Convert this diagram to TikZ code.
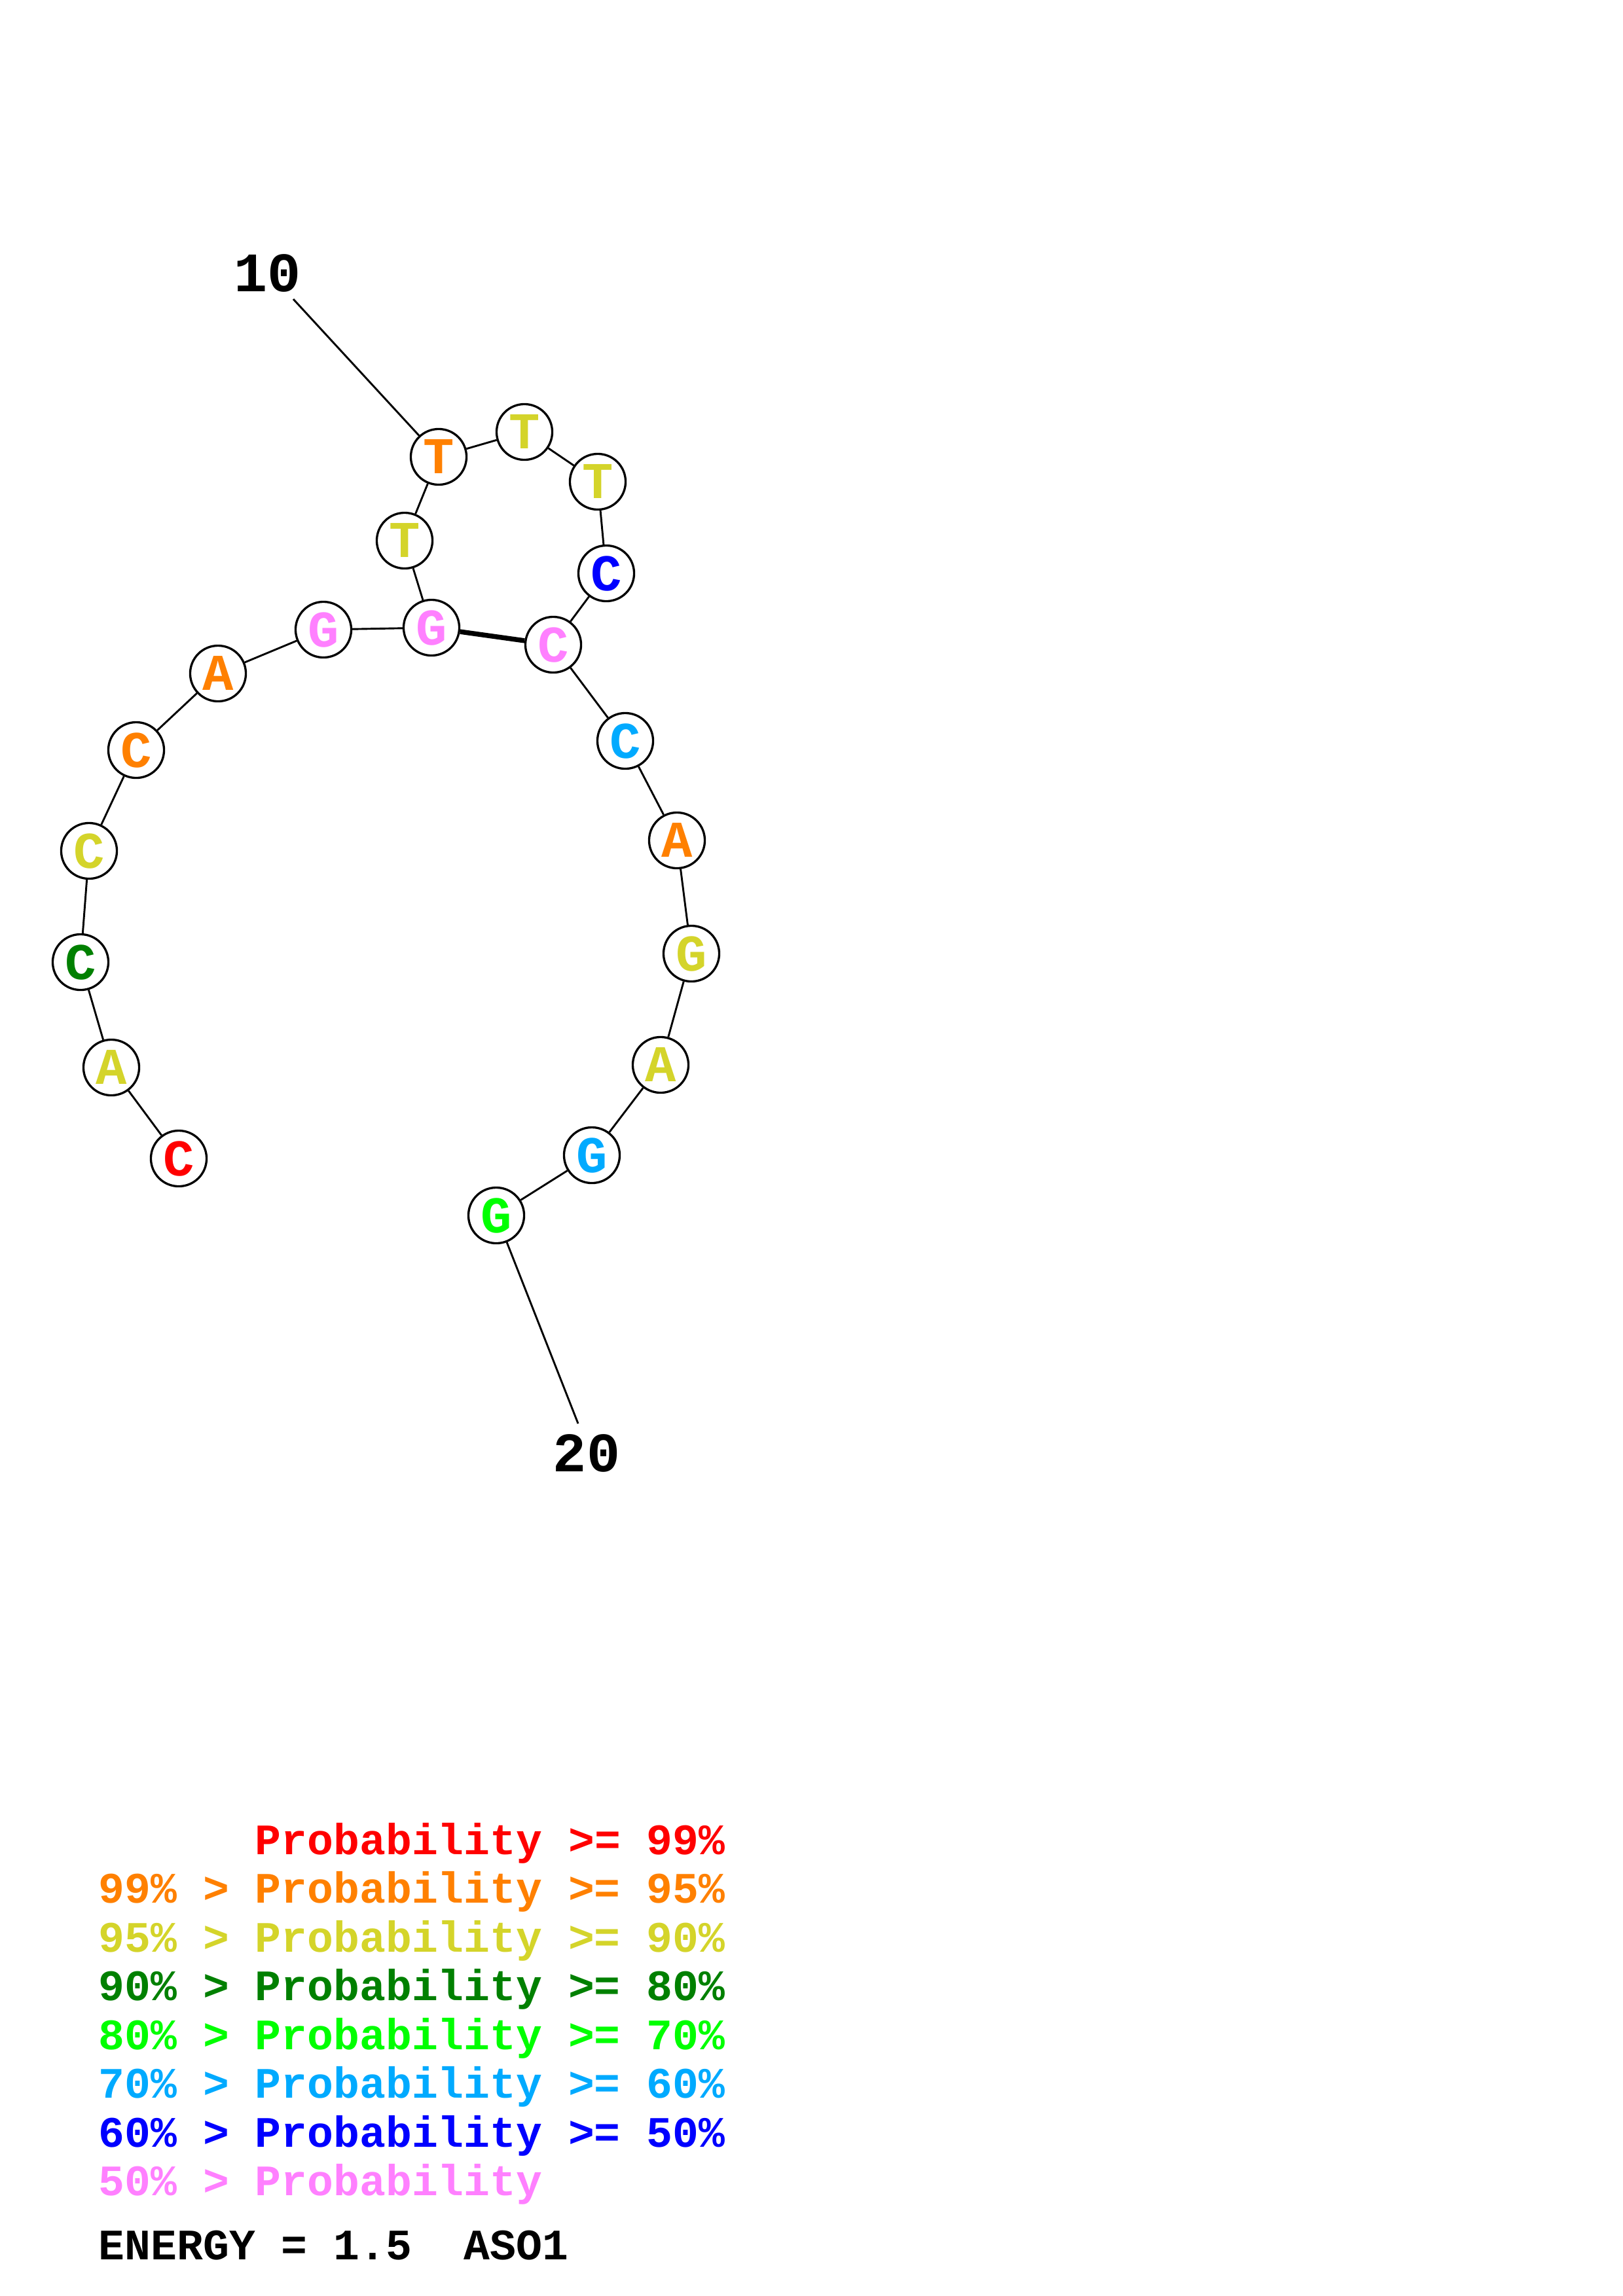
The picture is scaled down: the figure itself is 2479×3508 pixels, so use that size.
\documentclass[tikz,border=0pt]{standalone}
\usepackage{fontspec}
\setmonofont{Liberation Mono}
\definecolor{pr}{RGB}{255,0,0}
\definecolor{po}{RGB}{255,128,0}
\definecolor{py}{RGB}{212,212,42}
\definecolor{pdg}{RGB}{0,128,0}
\definecolor{pg}{RGB}{0,255,0}
\definecolor{plb}{RGB}{0,170,255}
\definecolor{pb}{RGB}{0,0,255}
\definecolor{pp}{RGB}{255,128,255}
\tikzset{
  nuc/.style={circle, draw=black, fill=white, line width=0.8pt, minimum size=20.5pt, inner sep=0pt,
    font={\fontsize{19}{19}\selectfont\ttfamily\bfseries}},
  bond/.style={line width=0.7pt},
  pair/.style={line width=1.8pt},
  numlab/.style={inner sep=0pt, font={\fontsize{20.5}{20.5}\selectfont\ttfamily\bfseries}},
  leg/.style={anchor=base west, inner sep=0pt, font={\fontsize{16}{18}\selectfont\ttfamily\bfseries}}
}
\begin{document}
\begin{tikzpicture}[x=0.2409pt, y=-0.2409pt]
\useasboundingbox (0,0) rectangle (2479,3508);
\coordinate (l10) at (448,457);
\coordinate (l20) at (883,2175);
\node[nuc, text=pr]  (n1)  at (273,1770) {C};
\node[nuc, text=py]  (n2)  at (170,1631) {A};
\node[nuc, text=pdg] (n3)  at (123,1470) {C};
\node[nuc, text=py]  (n4)  at (136,1300) {C};
\node[nuc, text=po]  (n5)  at (208,1146) {C};
\node[nuc, text=po]  (n6)  at (333,1029) {A};
\node[nuc, text=pp]  (n7)  at (494,962)  {G};
\node[nuc, text=pp]  (n8)  at (659,959)  {G};
\node[nuc, text=py]  (n9)  at (618,826)  {T};
\node[nuc, text=po]  (n10) at (670,698)  {T};
\node[nuc, text=py]  (n11) at (801,660)  {T};
\node[nuc, text=py]  (n12) at (913,736)  {T};
\node[nuc, text=pb]  (n13) at (926,876)  {C};
\node[nuc, text=pp]  (n14) at (845,985)  {C};
\node[nuc, text=plb] (n15) at (955,1132) {C};
\node[nuc, text=po]  (n16) at (1034,1284) {A};
\node[nuc, text=py]  (n17) at (1056,1457) {G};
\node[nuc, text=py]  (n18) at (1009,1627) {A};
\node[nuc, text=plb] (n19) at (904,1765) {G};
\node[nuc, text=pg]  (n20) at (758,1857) {G};
\foreach \a/\b in {1/2,2/3,3/4,4/5,5/6,6/7,7/8,8/9,9/10,10/11,11/12,12/13,13/14,14/15,15/16,16/17,17/18,18/19,19/20}
  \draw[bond] (n\a) -- (n\b);
\draw[pair] (n8) -- (n14);
\node[numlab] (t10) at (409,417) {10};
\node[numlab] (t20) at (896,2220) {20};
\draw[bond] (l10) -- (n10);
\draw[bond] (l20) -- (n20);
\node[leg, text=pr]  (g1) at (150,2833) {\phantom{99\% > }Probability >= 99\%};
\node[leg, text=po]  (g2) at (150,2907.5) {99\% > Probability >= 95\%};
\node[leg, text=py]  (g3) at (150,2982) {95\% > Probability >= 90\%};
\node[leg, text=pdg] (g4) at (150,3056) {90\% > Probability >= 80\%};
\node[leg, text=pg]  (g5) at (150,3131) {80\% > Probability >= 70\%};
\node[leg, text=plb] (g6) at (150,3205) {70\% > Probability >= 60\%};
\node[leg, text=pb]  (g7) at (150,3280) {60\% > Probability >= 50\%};
\node[leg, text=pp]  (g8) at (150,3354) {50\% > Probability};
\node[leg, text=black] (g9) at (150,3452) {ENERGY = 1.5\ \ ASO1};
\end{tikzpicture}
\end{document}
